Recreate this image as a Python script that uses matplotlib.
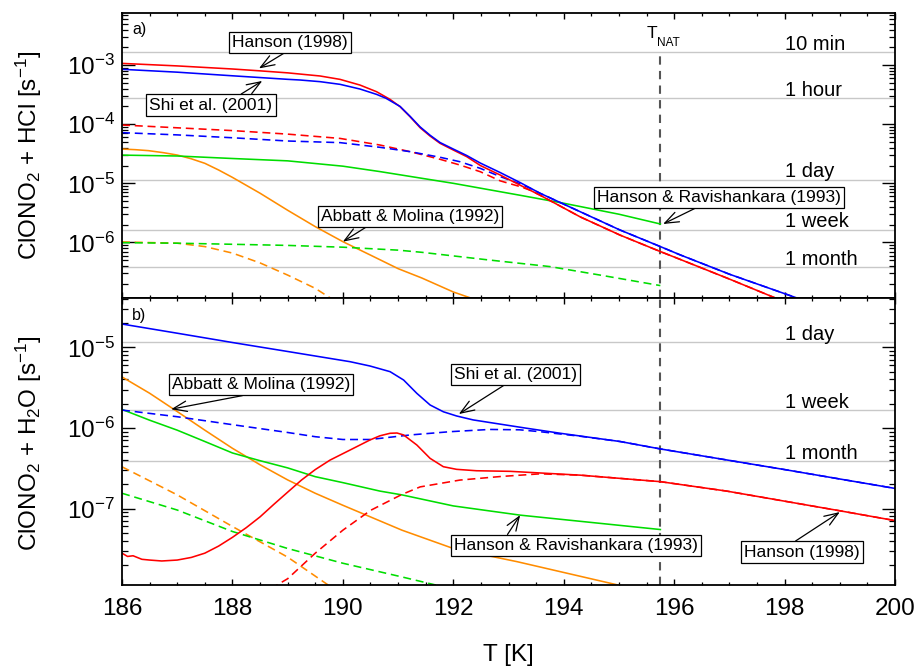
import matplotlib
matplotlib.use('Agg')
import matplotlib.pyplot as plt
from matplotlib.ticker import LogLocator, MultipleLocator, NullFormatter

plt.rcParams['font.family'] = ['Liberation Sans', 'DejaVu Sans']
plt.rcParams['mathtext.fontset'] = 'custom'
plt.rcParams['mathtext.rm'] = 'Liberation Sans'
plt.rcParams['mathtext.it'] = 'Liberation Sans:italic'
plt.rcParams['mathtext.bf'] = 'Liberation Sans:bold'

# ---------------- dados ----------------
T_NAT = 195.75

# tempos caracteristicos (linhas horizontais)
tempo_nomes = ['10 min', '1 hour', '1 day', '1 week', '1 month']
tempo_seg = [600.0, 3600.0, 86400.0, 604800.0, 30 * 86400.0]

# painel a) ClONO2 + HCl
a_han_T = [186.0, 187.0, 188.0, 188.5, 189.0, 189.225, 189.587, 189.949, 190.31, 190.61, 190.855, 191.036,
           191.217, 191.399, 191.58, 191.76, 192.0, 192.245, 192.49, 192.85, 193.21, 193.57, 194.3, 195.02,
           195.75, 196.1, 197.0, 197.83, 198.1]
a_han_k = [1.07e-3, 9.7e-4, 8.6e-4, 8.0e-4, 7.4e-4, 7.06e-4, 6.55e-4, 5.74e-4, 4.6e-4, 3.55e-4, 2.63e-4, 1.98e-4,
           1.34e-4, 8.73e-5, 6.3e-5, 4.75e-5, 3.66e-5, 2.82e-5, 2.0e-5, 1.38e-5, 9.3e-6, 6.3e-6, 2.7e-6, 1.33e-6,
           7.0e-7, 5.2e-7, 2.4e-7, 1.15e-7, 9.0e-8]

a_shi_T = [186.0, 187.0, 188.0, 189.0, 189.225, 189.587, 189.949, 190.31, 190.61, 190.78, 191.036, 191.217,
           191.399, 191.58, 191.76, 192.0, 192.245, 192.49, 192.85, 193.21, 193.57, 194.3, 195.02, 195.75,
           196.1, 197.0, 198.22, 198.4]
a_shi_k = [8.5e-4, 7.6e-4, 6.6e-4, 5.75e-4, 5.6e-4, 5.25e-4, 4.73e-4, 3.94e-4, 3.2e-4, 2.75e-4, 2.0e-4, 1.36e-4,
           9.0e-5, 6.5e-5, 4.9e-5, 3.8e-5, 2.95e-5, 2.2e-5, 1.52e-5, 1.03e-5, 6.8e-6, 3.3e-6, 1.62e-6, 8.5e-7,
           6.2e-7, 2.9e-7, 1.15e-7, 1.0e-7]

a_han_tr_T = [186.0, 187.0, 188.0, 189.0, 189.95, 190.67, 191.22, 191.76, 192.12, 192.49, 192.85, 193.21,
              193.4, 193.57, 194.3, 195.02, 195.75, 196.1, 197.0, 197.83, 198.1]
a_han_tr_k = [9.7e-5, 8.7e-5, 7.8e-5, 6.8e-5, 5.75e-5, 4.45e-5, 3.43e-5, 2.55e-5, 2.04e-5, 1.57e-5, 1.1e-5, 8.8e-6,
              7.6e-6, 6.3e-6, 2.7e-6, 1.33e-6, 7.0e-7, 5.2e-7, 2.4e-7, 1.15e-7, 9.0e-8]

a_shi_tr_T = [186.0, 187.0, 188.0, 189.0, 189.95, 190.67, 191.22, 191.76, 192.12, 192.49, 192.85, 193.21,
              193.4, 193.57, 194.3, 195.02, 195.75, 196.1, 197.0, 198.22, 198.4]
a_shi_tr_k = [7.2e-5, 6.6e-5, 5.9e-5, 5.2e-5, 4.88e-5, 4.07e-5, 3.43e-5, 2.76e-5, 2.32e-5, 1.79e-5, 1.3e-5, 9.8e-6,
              8.2e-6, 6.8e-6, 3.3e-6, 1.62e-6, 8.5e-7, 6.2e-7, 2.9e-7, 1.15e-7, 1.0e-7]

a_hr_T = [186.0, 187.0, 188.0, 189.0, 190.0, 190.67, 192.0, 193.2, 194.0, 195.0, 195.75]
a_hr_k = [3.0e-5, 2.9e-5, 2.63e-5, 2.4e-5, 1.95e-5, 1.58e-5, 1.0e-5, 6.3e-6, 4.6e-6, 3.0e-6, 2.05e-6]

a_hr_tr_T = [186.0, 187.0, 188.0, 189.0, 190.0, 191.0, 191.43, 192.6, 193.75, 194.66, 195.75]
a_hr_tr_k = [9.9e-7, 9.7e-7, 9.3e-7, 8.9e-7, 8.3e-7, 7.4e-7, 6.8e-7, 5.1e-7, 3.9e-7, 2.8e-7, 1.86e-7]

a_am_T = [186.0, 186.24, 186.48, 186.75, 187.0, 187.25, 187.5, 187.75, 188.0, 188.5, 189.0, 189.5, 190.0,
          190.5, 191.0, 191.43, 192.0, 192.5]
a_am_k = [3.8e-5, 3.71e-5, 3.57e-5, 3.3e-5, 3.01e-5, 2.61e-5, 2.18e-5, 1.68e-5, 1.26e-5, 6.8e-6, 3.5e-6, 1.85e-6,
          1.03e-6, 6.1e-7, 3.6e-7, 2.5e-7, 1.45e-7, 1.0e-7]

a_am_tr_T = [186.0, 187.0, 187.5, 188.0, 188.5, 189.0, 189.5, 189.74, 190.0]
a_am_tr_k = [1.02e-6, 9.7e-7, 8.5e-7, 6.6e-7, 4.5e-7, 2.8e-7, 1.67e-7, 1.2e-7, 8.5e-8]

# painel b) ClONO2 + H2O
b_shi_T = [186.0, 187.0, 188.0, 189.0, 189.768, 190.13, 190.49, 190.855, 191.1, 191.34, 191.58, 191.82,
           192.06, 192.36, 192.66, 193.3, 193.94, 195.02, 195.75, 198.0, 200.0]
b_shi_k = [1.95e-5, 1.5e-5, 1.15e-5, 8.9e-6, 7.3e-6, 6.65e-6, 5.88e-6, 5.0e-6, 3.94e-6, 2.69e-6, 1.93e-6, 1.59e-6,
           1.41e-6, 1.26e-6, 1.17e-6, 1.0e-6, 8.6e-7, 6.8e-7, 5.5e-7, 3.05e-7, 1.78e-7]

b_shi_tr_T = [186.0, 187.0, 188.0, 189.0, 189.5, 190.0, 190.49, 191.22, 191.94, 192.66, 193.2, 193.57, 194.3,
              195.02, 195.75, 198.0, 200.0]
b_shi_tr_k = [1.67e-6, 1.38e-6, 1.1e-6, 8.8e-7, 7.8e-7, 7.2e-7, 7.2e-7, 8.2e-7, 9.0e-7, 9.6e-7, 9.5e-7, 9.0e-7,
              7.9e-7, 6.8e-7, 5.5e-7, 3.05e-7, 1.78e-7]

b_han_T = [186.0, 186.1, 186.2, 186.36, 186.5, 186.72, 187.0, 187.256, 187.5, 187.75, 188.0, 188.25, 188.5,
           188.75, 189.0, 189.25, 189.5, 189.768, 190.13, 190.49, 190.67, 190.855, 190.98, 191.1, 191.34,
           191.58, 191.82, 192.06, 192.42, 193.03, 194.3, 195.75, 196.95, 199.0, 200.0]
b_han_k = [2.8e-8, 2.55e-8, 2.6e-8, 2.35e-8, 2.3e-8, 2.24e-8, 2.3e-8, 2.48e-8, 2.8e-8, 3.43e-8, 4.4e-8, 5.8e-8,
           7.9e-8, 1.13e-7, 1.6e-7, 2.26e-7, 3.05e-7, 4.0e-7, 5.33e-7, 7.1e-7, 8.0e-7, 8.6e-7, 8.67e-7, 8.2e-7,
           6.15e-7, 4.2e-7, 3.31e-7, 3.07e-7, 2.95e-7, 2.9e-7, 2.6e-7, 2.16e-7, 1.65e-7, 9.4e-8, 7.1e-8]

b_han_tr_T = [188.7, 188.8, 189.0, 189.5, 190.0, 190.5, 191.07, 191.4, 192.12, 192.85, 193.57, 194.3,
              195.75, 196.95, 199.0, 200.0]
b_han_tr_k = [1.0e-8, 1.12e-8, 1.35e-8, 2.8e-8, 5.4e-8, 9.5e-8, 1.5e-7, 1.86e-7, 2.26e-7, 2.5e-7, 2.7e-7, 2.6e-7,
              2.16e-7, 1.65e-7, 9.4e-8, 7.1e-8]

b_hr_T = [186.0, 186.5, 187.0, 187.5, 188.0, 188.5, 189.0, 189.5, 190.0, 190.67, 191.07, 192.0, 193.21, 195.75]
b_hr_k = [1.7e-6, 1.25e-6, 9.4e-7, 6.8e-7, 4.9e-7, 3.93e-7, 3.2e-7, 2.49e-7, 2.1e-7, 1.65e-7, 1.48e-7, 1.08e-7,
          8.3e-8, 5.5e-8]

b_hr_tr_T = [186.0, 187.0, 188.0, 189.0, 190.0, 191.07, 192.0]
b_hr_tr_k = [1.55e-7, 9.6e-8, 5.2e-8, 3.2e-8, 2.1e-8, 1.42e-8, 1.0e-8]

b_am_T = [186.0, 186.5, 187.0, 187.5, 188.0, 188.5, 189.0, 189.5, 190.0, 191.07, 192.0, 193.15, 195.0, 195.2]
b_am_k = [4.3e-6, 2.7e-6, 1.6e-6, 9.4e-7, 5.6e-7, 3.5e-7, 2.27e-7, 1.55e-7, 1.1e-7, 5.4e-8, 3.2e-8, 2.2e-8,
          1.12e-8, 1.05e-8]

b_am_tr_T = [186.0, 187.0, 188.0, 189.0, 189.74, 189.9]
b_am_tr_k = [3.3e-7, 1.48e-7, 6.0e-8, 2.5e-8, 1.12e-8, 9.5e-9]

# ---------------- estilo ----------------
VERMELHO = '#ff0000'
AZUL = '#0000ff'
VERDE = '#00dd00'
LARANJA = '#ff8c00'
TRACO = (0, (5, 3))
LW = 1.15


def prepara_eixo(ax, ylim):
    ax.set_xlim(186, 200)
    ax.set_yscale('log')
    ax.set_ylim(*ylim)
    ax.xaxis.set_major_locator(MultipleLocator(2))
    ax.xaxis.set_minor_locator(MultipleLocator(0.5))
    ax.yaxis.set_major_locator(LogLocator(base=10))
    ax.yaxis.set_minor_locator(LogLocator(base=10, subs=range(2, 10)))
    ax.yaxis.set_minor_formatter(NullFormatter())
    ax.tick_params(which='both', direction='in', top=True, right=True, labelsize=17.5)
    ax.tick_params(axis='y', which='major', length=9.5, width=1.0, pad=5)
    ax.tick_params(axis='y', which='minor', length=4.5, width=0.9)
    ax.tick_params(axis='x', which='major', length=4.5, width=1.0, pad=9)
    ax.tick_params(axis='x', which='minor', length=2.5, width=0.9)
    for s in ax.spines.values():
        s.set_linewidth(1.3)


def linhas_tempo(ax, nomes, segundos):
    for nome, seg in zip(nomes, segundos):
        ax.axhline(1.0 / seg, color='#c8c8c8', lw=1.0, zorder=0)
        ax.annotate(nome, xy=(198.0, 1.0 / seg), xytext=(0, 1.5), textcoords='offset points',
                    fontsize=14.5, ha='left', va='baseline')


def caixa(ax, texto, xy, xytext, relpos):
    ax.annotate(texto, xy=xy, xytext=xytext, fontsize=12.5, ha='center', va='center', zorder=6,
                bbox=dict(boxstyle='square,pad=0.18', fc='white', ec='black', lw=0.9),
                arrowprops=dict(arrowstyle='->,head_length=0.8,head_width=0.3', color='black',
                                lw=0.9, relpos=relpos, shrinkA=0, shrinkB=0))


fig = plt.figure(figsize=(9.16, 6.67), dpi=100)
ax1 = fig.add_axes([0.1332, 0.5532, 0.8439, 0.4273])
ax2 = fig.add_axes([0.1332, 0.1229, 0.8439, 0.4303])

# ---------------- painel a) ----------------
prepara_eixo(ax1, (1.146e-7, 7.62e-3))
ax1.tick_params(labelbottom=False)
linhas_tempo(ax1, tempo_nomes, tempo_seg)
ax1.plot(a_am_T, a_am_k, color=LARANJA, lw=LW)
ax1.plot(a_am_tr_T, a_am_tr_k, color=LARANJA, lw=LW, ls=TRACO)
ax1.plot(a_hr_T, a_hr_k, color=VERDE, lw=LW)
ax1.plot(a_hr_tr_T, a_hr_tr_k, color=VERDE, lw=LW, ls=TRACO)
ax1.plot(a_han_tr_T, a_han_tr_k, color=VERMELHO, lw=LW, ls=TRACO)
ax1.plot(a_shi_tr_T, a_shi_tr_k, color=AZUL, lw=LW, ls=TRACO)
ax1.plot(a_han_T, a_han_k, color=VERMELHO, lw=LW)
ax1.plot(a_shi_T, a_shi_k, color=AZUL, lw=LW)
ax1.vlines(T_NAT, 1.146e-7, 1.0 / 600, color='#555555', lw=1.5, linestyles=(0, (4, 3)), zorder=1)
ax1.text(195.51, 2.87e-3, 'T', fontsize=12.5, ha='left', va='baseline')
ax1.text(195.69, 2.1e-3, 'NAT', fontsize=8.5, ha='left', va='baseline')
ax1.text(0.013, 0.968, 'a)', transform=ax1.transAxes, fontsize=11.5, ha='left', va='top')

caixa(ax1, 'Hanson (1998)', (188.48, 8.8e-4), (189.04, 2.45e-3), (0.5, 0.0))
caixa(ax1, 'Shi et al. (2001)', (188.54, 5.4e-4), (187.61, 2.11e-4), (0.7, 1.0))
caixa(ax1, 'Abbatt & Molina (1992)', (190.0, 1.03e-6), (191.22, 2.74e-6), (0.28, 0.0))
caixa(ax1, 'Hanson & Ravishankara (1993)', (195.8, 2.05e-6), (196.81, 5.75e-6), (0.43, 0.0))

# ---------------- painel b) ----------------
prepara_eixo(ax2, (1.127e-8, 4.1e-5))
linhas_tempo(ax2, tempo_nomes[2:], tempo_seg[2:])
ax2.plot(b_am_T, b_am_k, color=LARANJA, lw=LW)
ax2.plot(b_am_tr_T, b_am_tr_k, color=LARANJA, lw=LW, ls=TRACO)
ax2.plot(b_hr_T, b_hr_k, color=VERDE, lw=LW)
ax2.plot(b_hr_tr_T, b_hr_tr_k, color=VERDE, lw=LW, ls=TRACO)
ax2.plot(b_han_tr_T, b_han_tr_k, color=VERMELHO, lw=LW, ls=TRACO)
ax2.plot(b_shi_tr_T, b_shi_tr_k, color=AZUL, lw=LW, ls=TRACO)
ax2.plot(b_han_T, b_han_k, color=VERMELHO, lw=LW)
ax2.plot(b_shi_T, b_shi_k, color=AZUL, lw=LW)
ax2.axvline(T_NAT, color='#555555', lw=1.5, ls=(0, (4, 3)), zorder=1)
ax2.text(0.013, 0.965, 'b)', transform=ax2.transAxes, fontsize=11.5, ha='left', va='top')

caixa(ax2, 'Abbatt & Molina (1992)', (186.89, 1.71e-6), (188.52, 3.46e-6), (0.5, 0.0))
caixa(ax2, 'Shi et al. (2001)', (192.1, 1.49e-6), (193.12, 4.6e-6), (0.45, 0.0))
caixa(ax2, 'Hanson & Ravishankara (1993)', (193.21, 8.3e-8), (194.22, 3.48e-8), (0.21, 1.0))
caixa(ax2, 'Hanson (1998)', (199.0, 9.06e-8), (198.31, 2.89e-8), (0.4, 1.0))

# rotulos dos eixos
fig.text(0.032, 1 - 155 / 667, r'ClONO$_2$ + HCl [s$^{-1}$]', rotation=90, fontsize=17.5,
         ha='center', va='center')
fig.text(0.032, 1 - 443 / 667, r'ClONO$_2$ + H$_2$O [s$^{-1}$]', rotation=90, fontsize=17.5,
         ha='center', va='center')
fig.text(508 / 916, 1 - 655 / 667, 'T [K]', fontsize=17.5, ha='center', va='center')

fig.savefig('out.png', dpi=100)
